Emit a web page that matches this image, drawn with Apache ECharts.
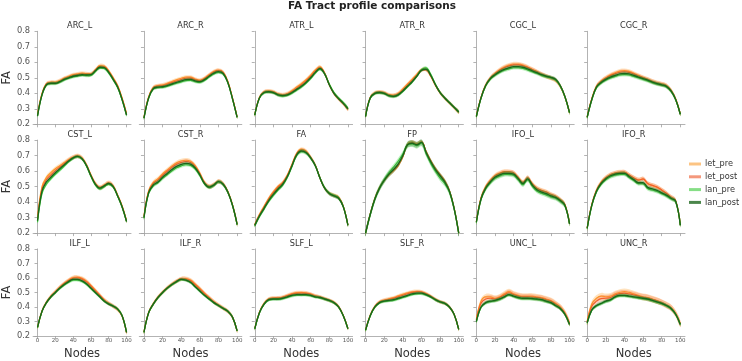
<!DOCTYPE html>
<html><head><meta charset="utf-8">
<script src="https://cdn.jsdelivr.net/npm/echarts@6/dist/echarts.min.js"></script>
<style>html,body{margin:0;padding:0;background:#fff}#c{width:742px;height:361px}</style>
</head><body><div id="c"></div>
<script>
const nodes = [0,5,10,15,20,25,30,35,40,45,50,55,60,65,70,75,80,85,90,95,100];
const xTicks = [0,20,40,60,80,100];
const yTicks = [0.2,0.3,0.4,0.5,0.6,0.7,0.8];
const seriesNames = ['let_pre','let_post','lan_pre','lan_post'];
const tracts = ['ARC_L','ARC_R','ATR_L','ATR_R','CGC_L','CGC_R','CST_L','CST_R','FA','FP','IFO_L','IFO_R','ILF_L','ILF_R','SLF_L','SLF_R','UNC_L','UNC_R'];
// half-width of confidence band per tract: [let groups, lan groups]
const bandHalfWidth = [[0.012,0.01],[0.012,0.01],[0.012,0.01],[0.012,0.01],[0.014,0.012],[0.014,0.012],[0.014,0.01],[0.014,0.012],[0.012,0.012],[0.012,0.02],[0.015,0.015],[0.015,0.013],[0.014,0.01],[0.014,0.01],[0.012,0.01],[0.012,0.01],[0.02,0.012],[0.022,0.012]];

const ARC_L = {
 let_pre:  [0.265,0.40,0.462,0.472,0.472,0.483,0.498,0.51,0.52,0.526,0.53,0.527,0.527,0.552,0.578,0.575,0.545,0.5,0.45,0.37,0.27],
 let_post: [0.26,0.395,0.46,0.468,0.468,0.478,0.494,0.505,0.515,0.52,0.524,0.522,0.523,0.548,0.572,0.57,0.54,0.495,0.445,0.365,0.265],
 lan_pre:  [0.252,0.388,0.453,0.462,0.462,0.471,0.486,0.497,0.506,0.511,0.516,0.514,0.516,0.54,0.563,0.56,0.53,0.486,0.436,0.356,0.258],
 lan_post: [0.255,0.39,0.455,0.465,0.465,0.475,0.49,0.50,0.51,0.515,0.52,0.518,0.52,0.545,0.568,0.565,0.535,0.49,0.44,0.36,0.26]};
const ARC_R = {
 let_pre:  [0.245,0.377,0.438,0.45,0.454,0.464,0.476,0.487,0.497,0.504,0.504,0.492,0.485,0.498,0.521,0.542,0.55,0.537,0.477,0.37,0.248],
 let_post: [0.243,0.374,0.435,0.446,0.449,0.458,0.469,0.479,0.489,0.497,0.498,0.487,0.481,0.494,0.517,0.537,0.546,0.533,0.474,0.368,0.247],
 lan_pre:  [0.238,0.367,0.427,0.437,0.438,0.446,0.456,0.465,0.474,0.482,0.484,0.475,0.47,0.483,0.505,0.525,0.535,0.524,0.467,0.363,0.244],
 lan_post: [0.24,0.37,0.43,0.44,0.442,0.45,0.46,0.47,0.48,0.488,0.49,0.48,0.475,0.488,0.51,0.53,0.54,0.528,0.47,0.365,0.245]};
const ATR_L = {
 let_pre:  [0.262,0.373,0.41,0.416,0.411,0.396,0.391,0.399,0.418,0.44,0.462,0.487,0.517,0.55,0.57,0.53,0.456,0.4,0.364,0.333,0.297],
 let_post: [0.26,0.372,0.408,0.413,0.408,0.393,0.388,0.395,0.412,0.433,0.455,0.48,0.51,0.543,0.565,0.528,0.455,0.4,0.364,0.333,0.298],
 lan_pre:  [0.258,0.368,0.402,0.407,0.402,0.388,0.382,0.387,0.4,0.42,0.44,0.465,0.495,0.53,0.555,0.525,0.46,0.405,0.37,0.34,0.305],
 lan_post: [0.26,0.37,0.405,0.41,0.405,0.39,0.385,0.39,0.405,0.425,0.445,0.47,0.5,0.535,0.56,0.525,0.455,0.4,0.365,0.335,0.3]};
const ATR_R = {
 let_pre:  [0.253,0.373,0.404,0.41,0.405,0.391,0.388,0.4,0.428,0.46,0.49,0.522,0.551,0.552,0.51,0.452,0.403,0.368,0.338,0.308,0.278],
 let_post: [0.252,0.372,0.402,0.408,0.403,0.389,0.385,0.396,0.422,0.453,0.483,0.517,0.55,0.553,0.512,0.453,0.404,0.369,0.339,0.309,0.279],
 lan_pre:  [0.25,0.368,0.398,0.403,0.398,0.383,0.378,0.388,0.412,0.442,0.472,0.51,0.552,0.565,0.522,0.458,0.405,0.37,0.34,0.31,0.28],
 lan_post: [0.25,0.37,0.4,0.405,0.4,0.385,0.38,0.39,0.415,0.445,0.475,0.51,0.548,0.555,0.515,0.455,0.405,0.37,0.34,0.31,0.28]};
const CGC_L = {
 let_pre:  [0.253,0.373,0.453,0.5,0.528,0.552,0.57,0.582,0.589,0.588,0.582,0.57,0.555,0.54,0.524,0.51,0.498,0.483,0.446,0.378,0.276],
 let_post: [0.252,0.372,0.452,0.498,0.525,0.548,0.565,0.576,0.583,0.583,0.578,0.567,0.552,0.538,0.523,0.51,0.5,0.485,0.447,0.379,0.276],
 lan_pre:  [0.248,0.367,0.447,0.492,0.516,0.535,0.549,0.558,0.565,0.565,0.561,0.551,0.539,0.528,0.516,0.507,0.5,0.487,0.448,0.378,0.274],
 lan_post: [0.25,0.37,0.45,0.495,0.52,0.54,0.555,0.565,0.572,0.572,0.568,0.558,0.545,0.533,0.52,0.51,0.503,0.49,0.45,0.38,0.275]};
const CGC_R = {
 let_pre:  [0.248,0.365,0.446,0.479,0.501,0.519,0.532,0.543,0.546,0.541,0.529,0.516,0.503,0.491,0.478,0.468,0.461,0.451,0.42,0.363,0.267],
 let_post: [0.247,0.363,0.444,0.476,0.497,0.514,0.526,0.536,0.539,0.535,0.524,0.512,0.5,0.489,0.476,0.466,0.459,0.449,0.418,0.362,0.266],
 lan_pre:  [0.243,0.357,0.436,0.466,0.485,0.499,0.509,0.518,0.521,0.518,0.509,0.5,0.49,0.48,0.468,0.459,0.452,0.442,0.413,0.358,0.264],
 lan_post: [0.245,0.36,0.44,0.47,0.49,0.505,0.515,0.525,0.528,0.525,0.515,0.505,0.495,0.485,0.472,0.462,0.455,0.445,0.415,0.36,0.265]};
const CST_L = {
 let_pre:  [0.3,0.5,0.56,0.59,0.615,0.635,0.655,0.675,0.69,0.7,0.685,0.64,0.575,0.52,0.495,0.51,0.525,0.505,0.445,0.375,0.28],
 let_post: [0.29,0.485,0.545,0.575,0.603,0.626,0.648,0.67,0.688,0.697,0.682,0.638,0.572,0.518,0.492,0.507,0.522,0.502,0.442,0.372,0.278],
 lan_pre:  [0.27,0.455,0.515,0.55,0.58,0.605,0.632,0.66,0.682,0.693,0.678,0.632,0.565,0.51,0.485,0.5,0.515,0.497,0.437,0.367,0.275],
 lan_post: [0.28,0.47,0.53,0.56,0.59,0.615,0.64,0.665,0.685,0.695,0.68,0.635,0.57,0.515,0.49,0.505,0.52,0.5,0.44,0.37,0.275]};
const CST_R = {
 let_pre:  [0.308,0.472,0.527,0.551,0.582,0.608,0.633,0.653,0.665,0.67,0.663,0.635,0.586,0.527,0.501,0.513,0.535,0.518,0.468,0.383,0.257],
 let_post: [0.305,0.467,0.52,0.542,0.573,0.599,0.624,0.644,0.656,0.662,0.656,0.629,0.582,0.525,0.5,0.512,0.534,0.517,0.467,0.382,0.256],
 lan_pre:  [0.295,0.455,0.505,0.525,0.553,0.577,0.601,0.621,0.634,0.641,0.637,0.613,0.57,0.517,0.495,0.508,0.53,0.513,0.463,0.378,0.254],
 lan_post: [0.3,0.46,0.51,0.53,0.56,0.585,0.61,0.63,0.643,0.65,0.645,0.62,0.575,0.52,0.497,0.51,0.532,0.515,0.465,0.38,0.255]};
const FA = {
 let_pre:  [0.255,0.32,0.373,0.425,0.467,0.502,0.528,0.575,0.645,0.715,0.742,0.73,0.69,0.638,0.556,0.491,0.458,0.445,0.432,0.374,0.252],
 let_post: [0.253,0.316,0.368,0.42,0.461,0.496,0.524,0.572,0.641,0.711,0.736,0.725,0.688,0.637,0.556,0.49,0.456,0.442,0.428,0.372,0.251],
 lan_pre:  [0.248,0.306,0.355,0.404,0.443,0.478,0.509,0.56,0.63,0.7,0.725,0.716,0.683,0.634,0.556,0.492,0.457,0.442,0.426,0.371,0.25],
 lan_post: [0.25,0.31,0.36,0.41,0.45,0.485,0.515,0.565,0.635,0.705,0.73,0.72,0.685,0.635,0.555,0.49,0.455,0.44,0.425,0.37,0.25]};
const FP = {
 let_pre:  [0.2,0.323,0.424,0.494,0.54,0.576,0.603,0.635,0.693,0.773,0.787,0.776,0.788,0.726,0.666,0.616,0.576,0.536,0.474,0.363,0.2],
 let_post: [0.2,0.322,0.423,0.493,0.54,0.577,0.605,0.638,0.695,0.772,0.785,0.775,0.788,0.725,0.665,0.615,0.575,0.535,0.473,0.362,0.2],
 lan_pre:  [0.2,0.318,0.418,0.49,0.543,0.588,0.625,0.665,0.71,0.768,0.775,0.765,0.78,0.712,0.65,0.6,0.555,0.52,0.465,0.358,0.2],
 lan_post: [0.2,0.32,0.42,0.49,0.54,0.58,0.61,0.645,0.7,0.77,0.78,0.77,0.785,0.72,0.66,0.61,0.57,0.53,0.47,0.36,0.2]};
const IFO_L = {
 let_pre:  [0.275,0.428,0.5,0.541,0.571,0.587,0.597,0.596,0.589,0.558,0.528,0.557,0.519,0.49,0.476,0.466,0.45,0.438,0.417,0.384,0.263],
 let_post: [0.273,0.425,0.496,0.537,0.567,0.583,0.593,0.593,0.587,0.556,0.526,0.556,0.517,0.488,0.473,0.463,0.447,0.436,0.415,0.383,0.262],
 lan_pre:  [0.268,0.416,0.485,0.524,0.553,0.568,0.578,0.579,0.573,0.543,0.513,0.543,0.503,0.472,0.457,0.447,0.434,0.425,0.405,0.377,0.26],
 lan_post: [0.27,0.42,0.49,0.53,0.56,0.575,0.585,0.585,0.58,0.55,0.52,0.55,0.51,0.48,0.465,0.455,0.44,0.43,0.41,0.38,0.26]};
const IFO_R = {
 let_pre:  [0.233,0.385,0.477,0.528,0.558,0.578,0.588,0.593,0.593,0.575,0.557,0.543,0.548,0.518,0.506,0.495,0.477,0.456,0.431,0.408,0.252],
 let_post: [0.232,0.384,0.475,0.526,0.556,0.576,0.586,0.591,0.592,0.574,0.556,0.542,0.55,0.52,0.508,0.497,0.478,0.457,0.432,0.409,0.252],
 lan_pre:  [0.228,0.376,0.465,0.514,0.544,0.564,0.574,0.579,0.579,0.559,0.539,0.519,0.518,0.487,0.478,0.468,0.454,0.44,0.421,0.402,0.25],
 lan_post: [0.23,0.38,0.47,0.52,0.55,0.57,0.58,0.585,0.585,0.565,0.545,0.525,0.525,0.495,0.485,0.475,0.46,0.445,0.425,0.405,0.25]};
const ILF_L = {
 let_pre:  [0.261,0.372,0.433,0.474,0.505,0.537,0.564,0.586,0.603,0.605,0.597,0.578,0.548,0.515,0.482,0.449,0.425,0.405,0.383,0.338,0.223],
 let_post: [0.26,0.371,0.432,0.473,0.504,0.535,0.561,0.582,0.598,0.6,0.592,0.573,0.543,0.511,0.479,0.447,0.424,0.406,0.384,0.339,0.224],
 lan_pre:  [0.258,0.368,0.428,0.468,0.498,0.527,0.551,0.57,0.584,0.584,0.575,0.555,0.526,0.497,0.468,0.439,0.42,0.406,0.386,0.341,0.226],
 lan_post: [0.26,0.37,0.43,0.47,0.5,0.53,0.555,0.575,0.59,0.59,0.58,0.56,0.53,0.5,0.47,0.44,0.42,0.405,0.385,0.34,0.225]};
const ILF_R = {
 let_pre:  [0.227,0.362,0.422,0.467,0.502,0.532,0.557,0.578,0.595,0.596,0.585,0.558,0.528,0.495,0.466,0.437,0.413,0.392,0.37,0.33,0.234],
 let_post: [0.226,0.361,0.421,0.466,0.501,0.531,0.556,0.577,0.593,0.592,0.58,0.553,0.523,0.491,0.463,0.435,0.412,0.391,0.37,0.33,0.235],
 lan_pre:  [0.224,0.358,0.418,0.463,0.498,0.528,0.553,0.573,0.588,0.584,0.568,0.538,0.508,0.478,0.453,0.428,0.409,0.39,0.37,0.331,0.236],
 lan_post: [0.225,0.36,0.42,0.465,0.5,0.53,0.555,0.575,0.59,0.585,0.57,0.54,0.51,0.48,0.455,0.43,0.41,0.39,0.37,0.33,0.235]};
const SLF_L = {
 let_pre:  [0.252,0.363,0.425,0.456,0.462,0.463,0.468,0.48,0.492,0.499,0.5,0.498,0.49,0.477,0.469,0.458,0.447,0.432,0.402,0.342,0.252],
 let_post: [0.251,0.362,0.423,0.454,0.46,0.461,0.466,0.477,0.488,0.494,0.495,0.494,0.487,0.475,0.468,0.457,0.446,0.431,0.401,0.341,0.251],
 lan_pre:  [0.248,0.358,0.418,0.447,0.452,0.452,0.457,0.466,0.476,0.481,0.481,0.481,0.477,0.468,0.463,0.453,0.443,0.428,0.398,0.339,0.25],
 lan_post: [0.25,0.36,0.42,0.45,0.455,0.455,0.46,0.47,0.48,0.485,0.485,0.485,0.48,0.47,0.465,0.455,0.445,0.43,0.4,0.34,0.25]};
const SLF_R = {
 let_pre:  [0.242,0.343,0.404,0.436,0.448,0.456,0.464,0.476,0.487,0.497,0.505,0.508,0.505,0.492,0.474,0.453,0.436,0.425,0.4,0.35,0.245],
 let_post: [0.241,0.342,0.403,0.434,0.445,0.452,0.459,0.47,0.481,0.491,0.5,0.504,0.502,0.49,0.473,0.452,0.436,0.425,0.4,0.35,0.245],
 lan_pre:  [0.238,0.338,0.398,0.428,0.438,0.442,0.446,0.455,0.465,0.475,0.485,0.49,0.491,0.482,0.468,0.448,0.434,0.424,0.399,0.349,0.245],
 lan_post: [0.24,0.34,0.4,0.43,0.44,0.445,0.45,0.46,0.47,0.48,0.49,0.495,0.495,0.485,0.47,0.45,0.435,0.425,0.4,0.35,0.245]};
const UNC_L = {
 let_pre:  [0.315,0.44,0.47,0.47,0.46,0.47,0.49,0.505,0.49,0.48,0.475,0.475,0.475,0.47,0.465,0.455,0.445,0.425,0.4,0.36,0.29],
 let_post: [0.31,0.425,0.455,0.46,0.455,0.465,0.482,0.498,0.485,0.475,0.47,0.47,0.468,0.465,0.46,0.45,0.44,0.42,0.397,0.357,0.287],
 lan_pre:  [0.298,0.397,0.427,0.437,0.442,0.452,0.467,0.482,0.472,0.462,0.457,0.457,0.455,0.452,0.447,0.437,0.428,0.408,0.388,0.349,0.28],
 lan_post: [0.3,0.4,0.43,0.44,0.445,0.455,0.47,0.485,0.475,0.465,0.46,0.46,0.458,0.455,0.45,0.44,0.43,0.41,0.39,0.35,0.28]};
const UNC_R = {
 let_pre:  [0.3,0.42,0.46,0.475,0.47,0.475,0.49,0.5,0.505,0.5,0.49,0.48,0.47,0.465,0.455,0.445,0.43,0.415,0.395,0.355,0.285],
 let_post: [0.295,0.405,0.44,0.458,0.46,0.465,0.482,0.492,0.495,0.49,0.483,0.475,0.467,0.462,0.452,0.442,0.43,0.413,0.393,0.353,0.283],
 lan_pre:  [0.288,0.377,0.407,0.422,0.437,0.447,0.467,0.477,0.477,0.472,0.467,0.462,0.457,0.452,0.443,0.433,0.423,0.408,0.388,0.349,0.28],
 lan_post: [0.29,0.38,0.41,0.425,0.44,0.45,0.47,0.48,0.48,0.475,0.47,0.465,0.46,0.455,0.445,0.435,0.425,0.41,0.39,0.35,0.28]};

const tractData = {ARC_L,ARC_R,ATR_L,ATR_R,CGC_L,CGC_R,CST_L,CST_R,FA,FP,IFO_L,IFO_R,ILF_L,ILF_R,SLF_L,SLF_R,UNC_L,UNC_R};

// ---- styling / layout ----
const FONT = 'DejaVu Sans';
const lineColors = ['#ff9b1e','#f2602c','#3ccc3c','#1a661a'];
const lineWidths = [1.2,1.2,1.2,1.35];
const bandColors = ['#ffad45','#f57a4f','#4fd64f','#2b7a2b'];
const legendColors = ['#fcc483','#f4987c','#86de86','#4b864b'];
const colLeft0 = 28.5, colStep = 110.8, rowTop0 = 31.3, rowStep = 108.8, gw = 102.5, gh = 93;
const axisGray = '#a0a0a0';

const grids = [], xAxes = [], yAxes = [], titles = [], series = [];
titles.push({text:'FA Tract profile comparisons', left:372, top:1, textAlign:'center', padding:0,
  textStyle:{fontFamily:FONT, fontSize:10.5, fontWeight:'bold', color:'#222'}});

tracts.forEach((t, i) => {
  const r = Math.floor(i / 6), c = i % 6;
  const left = colLeft0 + c * colStep, top = rowTop0 + r * rowStep;
  grids.push({left:left, top:top, width:gw, height:gh, containLabel:false});
  titles.push({text:t, left:left + gw/2, top:top - 9.5, textAlign:'center', padding:0,
    textStyle:{fontFamily:FONT, fontSize:8.2, fontWeight:'normal', color:'#333'}});
  xAxes.push({gridIndex:i, type:'value', min:-5, max:105,
    axisLine:{show:true, lineStyle:{color:axisGray, width:0.8}},
    axisTick:{show:true, customValues:xTicks, length:3, lineStyle:{color:axisGray, width:0.8}},
    axisLabel:{show:r === 2, customValues:xTicks, fontSize:5.5, color:'#555', margin:2, fontFamily:FONT},
    splitLine:{show:false},
    name: r === 2 ? 'Nodes' : '', nameLocation:'middle', nameGap:12,
    nameTextStyle:{fontFamily:FONT, fontSize:11.5, color:'#333'}});
  yAxes.push({gridIndex:i, type:'value', min:0.2, max:0.8,
    axisLine:{show:true, lineStyle:{color:axisGray, width:0.8}},
    axisTick:{show:true, customValues:yTicks, length:3, lineStyle:{color:axisGray, width:0.8}},
    axisLabel:{show:c === 0, customValues:yTicks, fontSize:8.3, color:'#555', margin:3, fontFamily:FONT,
      formatter:(v) => Number(v).toFixed(1)},
    splitLine:{show:false},
    name: c === 0 ? 'FA' : '', nameLocation:'middle', nameGap:15, nameRotate:90,
    nameTextStyle:{fontFamily:FONT, fontSize:11.5, color:'#333'}});
  const d = tractData[t];
  seriesNames.forEach((sn, s) => {
    const vals = d[sn];
    const hw = bandHalfWidth[i][s < 2 ? 0 : 1];
    series.push({
      type:'custom', name:'band', xAxisIndex:i, yAxisIndex:i, silent:true, z:2*s+1,
      data: nodes.map((x, k) => [x, vals[k] - hw, vals[k] + hw]),
      encode:{x:0, y:[1,2]},
      renderItem:(params, api) => {
        if (params.dataIndex !== 0) return;
        const up = [], lo = [];
        for (let k = 0; k < nodes.length; k++) {
          up.push(api.coord([nodes[k], vals[k] + hw]));
          lo.push(api.coord([nodes[k], vals[k] - hw]));
        }
        return {type:'polygon', shape:{points: up.concat(lo.reverse()), smooth:0.35},
          style:{fill:bandColors[s], opacity:0.35}};
      }
    });
    series.push({
      type:'line', name:sn, xAxisIndex:i, yAxisIndex:i, z:2*s+2,
      data: nodes.map((x, k) => [x, vals[k]]),
      smooth:0.4, symbol:'none', showSymbol:false,
      lineStyle:{width:lineWidths[s], color:lineColors[s]}, itemStyle:{color:lineColors[s]},
      emphasis:{disabled:true}
    });
  });
});

const chart = echarts.init(document.getElementById('c'), null, {renderer:'canvas'});
chart.setOption({
  backgroundColor:'#fff',
  animation:false,
  title:titles,
  grid:grids, xAxis:xAxes, yAxis:yAxes,
  legend:{orient:'vertical', left:689, top:160, itemWidth:12, itemHeight:3, itemGap:4.8,
    padding:0,
    textStyle:{fontFamily:FONT, fontSize:8.2, color:'#333', padding:[0,0,0,-1]},
    data: seriesNames.map((n, s) => ({name:n, icon:'rect', itemStyle:{color:legendColors[s]}}))},
  series:series
});
</script></body></html>
